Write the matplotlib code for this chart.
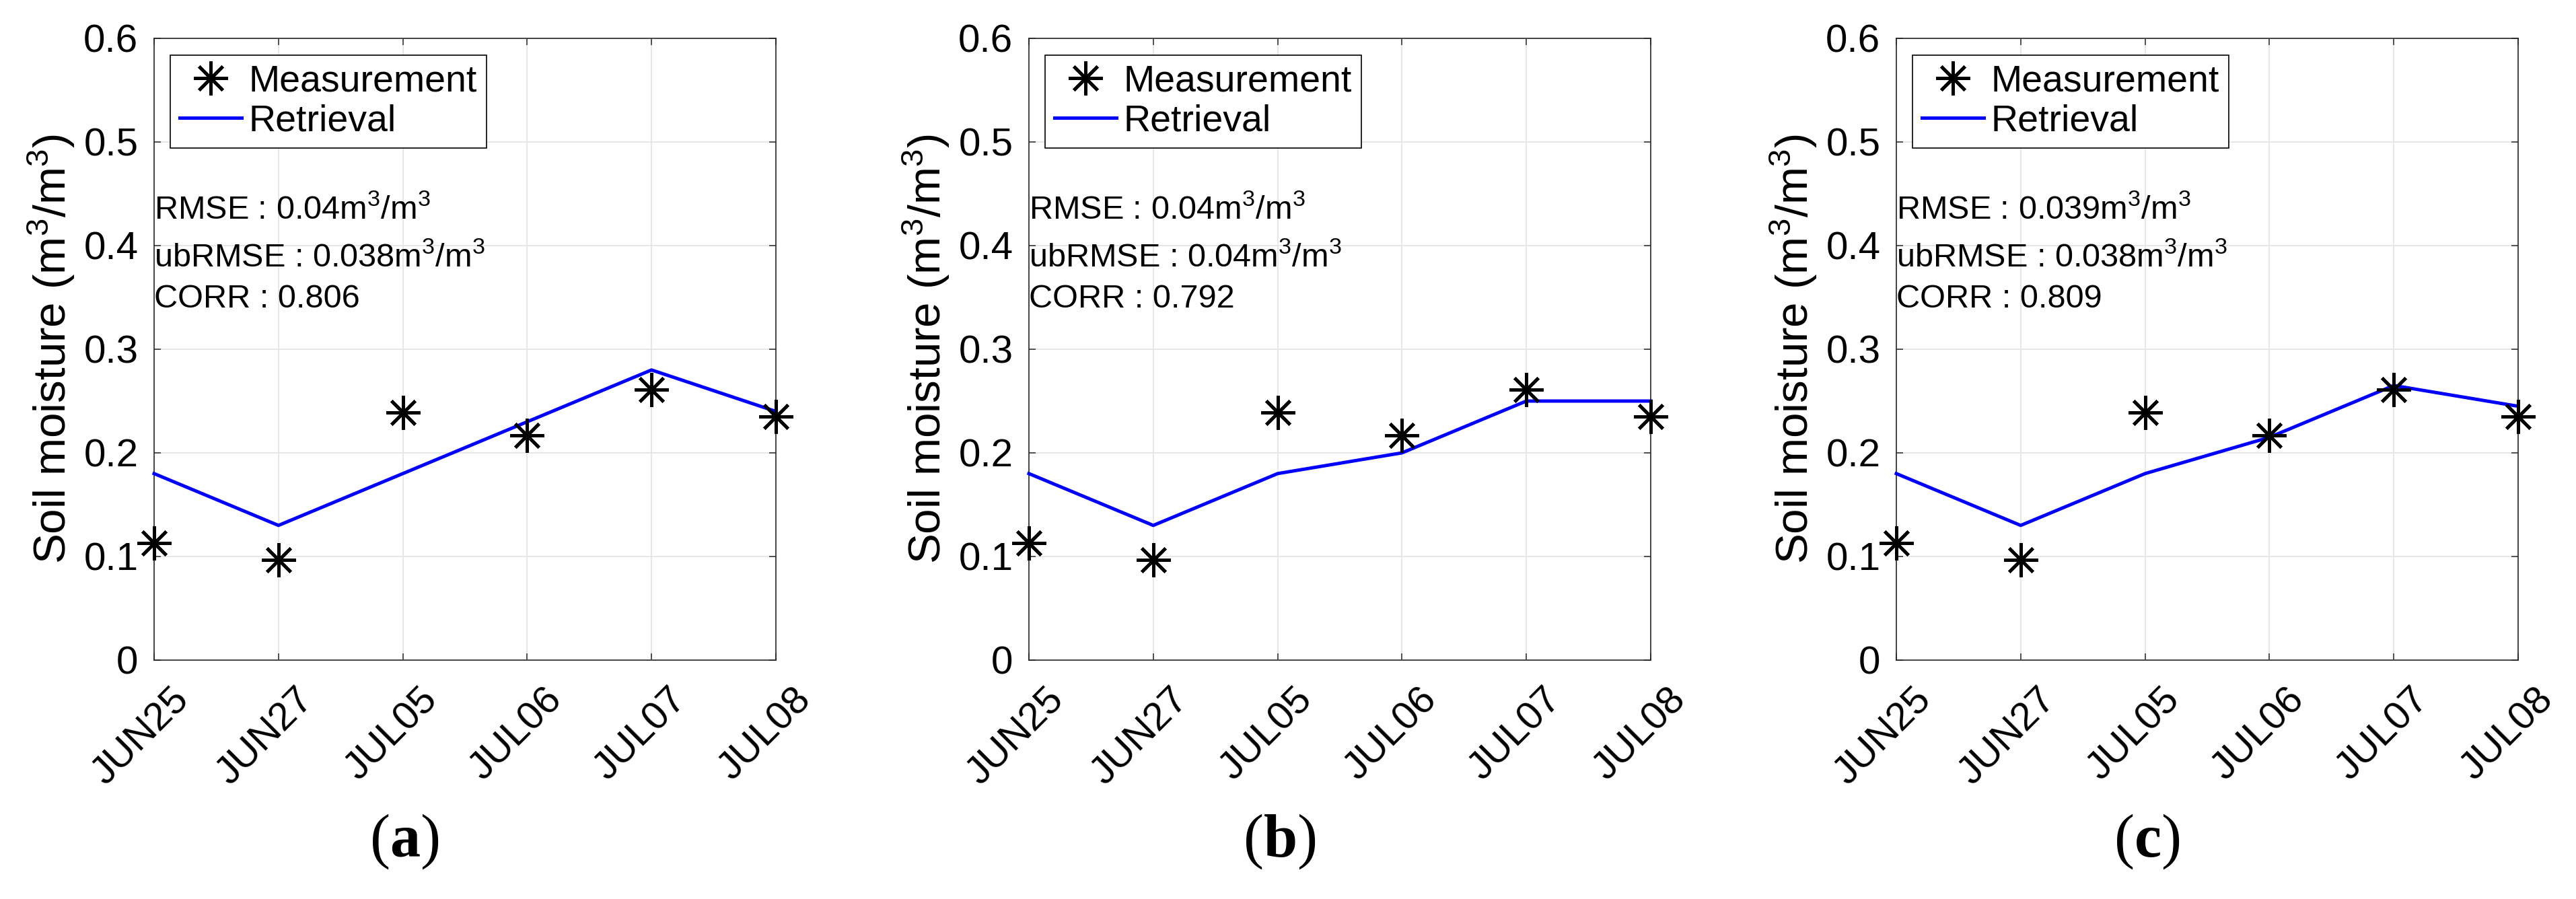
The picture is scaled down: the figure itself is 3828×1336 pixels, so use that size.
import matplotlib
matplotlib.use('Agg')
import matplotlib.pyplot as plt
from matplotlib.transforms import ScaledTranslation
from matplotlib.ticker import FormatStrFormatter

# Données
dates = ['JUN25', 'JUN27', 'JUL05', 'JUL06', 'JUL07', 'JUL08']
measurement = [0.113, 0.097, 0.239, 0.217, 0.261, 0.235]
retrieval_a = [0.18, 0.13, 0.18, 0.23, 0.28, 0.24]
retrieval_b = [0.18, 0.13, 0.18, 0.20, 0.25, 0.25]
retrieval_c = [0.18, 0.13, 0.18, 0.215, 0.265, 0.245]
rmse = ['0.04', '0.04', '0.039']
ubrmse = ['0.038', '0.04', '0.038']
corr = ['0.806', '0.792', '0.809']
panel_names = ['a', 'b', 'c']
yticks = [0, 0.1, 0.2, 0.3, 0.4, 0.5, 0.6]

plt.rcParams['font.family'] = ['Liberation Sans', 'DejaVu Sans']
plt.rcParams['mathtext.fontset'] = 'custom'
plt.rcParams['mathtext.rm'] = 'Liberation Sans'
plt.rcParams['mathtext.it'] = 'Liberation Sans:italic'
plt.rcParams['mathtext.bf'] = 'Liberation Serif:bold'

W, H = 3828, 1336
fig = plt.figure(figsize=(W / 100, H / 100), dpi=100)

lefts = [229, 1529, 2818]
ax_w, ax_top, ax_bot = 924, 57, 981
dark = '#262626'

for i, retrieval in enumerate([retrieval_a, retrieval_b, retrieval_c]):
    ax = fig.add_axes([lefts[i] / W, (H - ax_bot) / H, ax_w / W, (ax_bot - ax_top) / H])
    x = list(range(len(dates)))

    # Tracer les mesures et la restitution
    ax.plot(x, measurement, linestyle='none', marker=(8, 2, 0), markersize=36,
            markeredgewidth=3.5, color='black', label='Measurement', clip_on=False, zorder=4)
    ax.plot(x, retrieval, color=(0, 0, 1), linewidth=3.6, label='Retrieval',
            clip_on=False, zorder=3)

    ax.set_xlim(0, 5)
    ax.set_ylim(0, 0.6)
    ax.set_yticks(yticks)
    ax.yaxis.set_major_formatter(FormatStrFormatter('%g'))
    ax.set_xticks(x)
    ax.set_xticklabels(dates, rotation=45, ha='right', va='top', rotation_mode='anchor')

    ax.grid(True, color='#e3e3e3', linewidth=1.2)
    ax.set_axisbelow(True)
    for sp in ax.spines.values():
        sp.set_color(dark)
        sp.set_linewidth(1.2)
    ax.tick_params(direction='in', length=7, width=1.1, top=True, right=True,
                   labelsize=42, colors=dark, labelcolor='black')
    ax.tick_params(axis='y', pad=17)
    ax.tick_params(axis='x', pad=23)

    # Décaler les étiquettes inclinées vers la droite (après tick_params)
    offset = ScaledTranslation(0.24, 0, fig.dpi_scale_trans)
    for lab in ax.get_xticklabels():
        lab.set_transform(lab.get_transform() + offset)

    ax.set_ylabel('Soil moisture (m$^3$/m$^3$)', fontsize=48.5)
    ax.yaxis.set_label_coords(-0.124, 0.5)

    leg = ax.legend(loc='upper left', bbox_to_anchor=(24 / ax_w, 1 - 25 / (ax_bot - ax_top)),
                    borderaxespad=0, fontsize=40, handlelength=1.65, handletextpad=0.2,
                    labelspacing=0.12, borderpad=0.25, fancybox=False, framealpha=1,
                    edgecolor='black')
    leg.get_frame().set_linewidth(1.2)

    # Statistiques
    ax.text(0, 0.426, 'RMSE : ' + rmse[i] + 'm$^3$/m$^3$', fontsize=35, va='baseline', ha='left')
    ax.text(0, 0.380, 'ubRMSE : ' + ubrmse[i] + 'm$^3$/m$^3$', fontsize=35, va='baseline', ha='left')
    ax.text(0, 0.340, 'CORR : ' + corr[i], fontsize=35, va='baseline', ha='left')

    # Légende du panneau
    fig.text((lefts[i] + 372) / W, (H - 1251) / H, '($\\mathbf{' + panel_names[i] + '}$)',
             family='Liberation Serif', fontsize=65, ha='center', va='center')

fig.savefig('out.png', dpi=100, facecolor='white')
